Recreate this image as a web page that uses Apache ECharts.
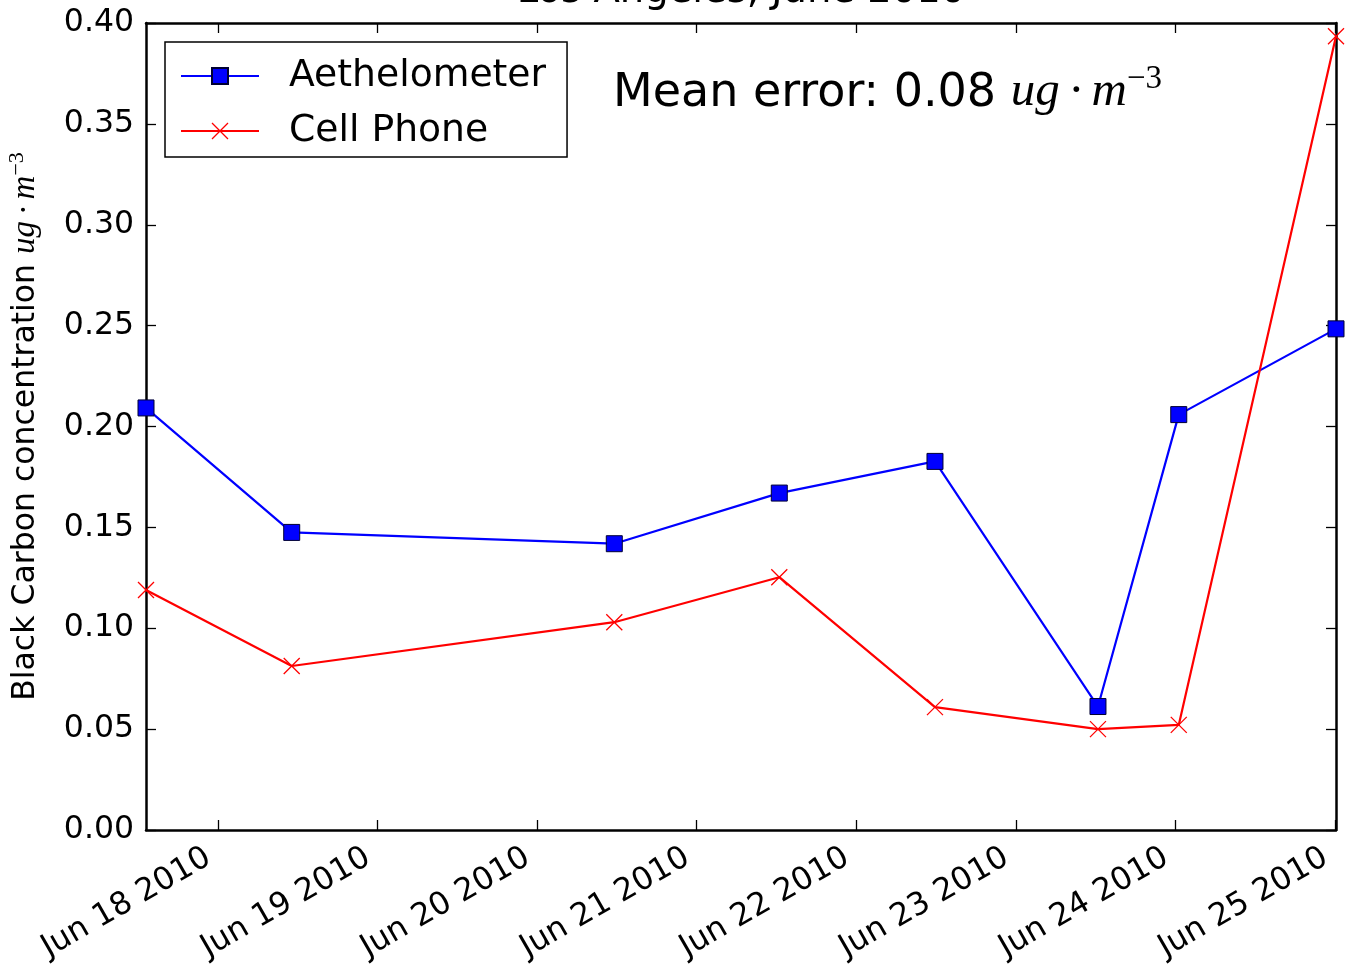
<!DOCTYPE html>
<html><head><meta charset="utf-8">
<script src="https://cdn.jsdelivr.net/npm/echarts@6/dist/echarts.min.js"></script>
<style>html,body{margin:0;padding:0;background:#fff}#c{width:1345px;height:967px}</style>
</head><body><div id="c"></div>
<script>
const MONTHS = ['Jan','Feb','Mar','Apr','May','Jun','Jul','Aug','Sep','Oct','Nov','Dec'];
const sampleTimes = ['2010-06-17 13:10','2010-06-18 11:05','2010-06-20 11:36','2010-06-21 12:25','2010-06-22 11:50','2010-06-23 12:21','2010-06-24 00:30','2010-06-25 00:09'];
const aethelometer = [0.2092, 0.1475, 0.1419, 0.1670, 0.1827, 0.0612, 0.2059, 0.2484];
const cellPhone    = [0.1190, 0.0813, 0.1030, 0.1253, 0.0609, 0.0500, 0.0521, 0.3934];
const dayTicks = ['2010-06-18','2010-06-19','2010-06-20','2010-06-21','2010-06-22','2010-06-23','2010-06-24','2010-06-25'];
const yMin = 0, yMax = 0.40, yStep = 0.05;
const titleText = 'Los Angeles, June 2010';
const meanErrorText = 'Mean error: 0.08 ';

function parseT(s){
  const [d, t='00:00'] = s.split(' ');
  const [Y,M,D] = d.split('-').map(Number);
  const [h,m] = t.split(':').map(Number);
  return new Date(Y, M-1, D, h, m).getTime();
}
const times = sampleTimes.map(parseT);
const tickTimes = dayTicks.map(parseT);
const xMin = times[0], xMax = times[times.length-1];
const fmtDate = v => { const d = new Date(v); return MONTHS[d.getMonth()] + ' ' + d.getDate() + ' ' + d.getFullYear(); };

const SANS = 'DejaVu Sans';
const SERIF = 'Liberation Serif';
const axisLineStyle = {color:'#000', width:2.5};
const tickStyle = {color:'#000', width:1.3};

const chart = echarts.init(document.getElementById('c'), null, {renderer:'canvas'});
chart.setOption({
  animation:false,
  backgroundColor:'#fff',
  grid:{left:146, top:23, width:1190, height:807, containLabel:false, outerBoundsMode:'none'},
  xAxis:[{
    type:'value', min:xMin, max:xMax, position:'bottom',
    axisLine:{show:true, onZero:false, lineStyle:axisLineStyle},
    axisTick:{show:true, inside:true, length:10, lineStyle:tickStyle, customValues:tickTimes},
    axisLabel:{show:true, customValues:tickTimes, formatter:fmtDate, rotate:30, margin:20,
      padding:[0,11,0,0], color:'#000', fontFamily:SANS, fontSize:31.5},
    splitLine:{show:false}
  },{
    type:'value', min:xMin, max:xMax, position:'top',
    axisLine:{show:true, onZero:false, lineStyle:axisLineStyle},
    axisTick:{show:true, inside:true, length:10, lineStyle:tickStyle, customValues:tickTimes},
    axisLabel:{show:false},
    splitLine:{show:false}
  }],
  yAxis:[{
    type:'value', min:yMin, max:yMax, interval:yStep, position:'left',
    axisLine:{show:true, onZero:false, lineStyle:axisLineStyle},
    axisTick:{show:true, inside:true, length:10, lineStyle:tickStyle},
    axisLabel:{show:true, margin:12, color:'#000', fontFamily:SANS, fontSize:31.5, formatter:v=>v.toFixed(2)},
    splitLine:{show:false},
    name:'{a|Black Carbon concentration }{m|ug\u2009·\u2009m}{s|\u22123}',
    nameLocation:'middle', nameGap:104,
    nameTextStyle:{
      color:'#000',
      rich:{
        a:{fontFamily:SANS, fontSize:31.5, color:'#000', verticalAlign:'bottom'},
        m:{fontFamily:SERIF, fontStyle:'italic', fontSize:33, color:'#000', verticalAlign:'bottom'},
        s:{fontFamily:SERIF, fontSize:22, color:'#000', verticalAlign:'bottom', padding:[0,0,14,0]}
      }
    }
  },{
    type:'value', min:yMin, max:yMax, interval:yStep, position:'right',
    axisLine:{show:true, onZero:false, lineStyle:axisLineStyle},
    axisTick:{show:true, inside:true, length:10, lineStyle:tickStyle},
    axisLabel:{show:false},
    splitLine:{show:false}
  }],
  legend:{
    orient:'vertical', left:165, top:42,
    padding:[14,21,6,15],
    itemWidth:78, itemHeight:20, itemGap:15,
    borderColor:'#000', borderWidth:1.5, borderRadius:0,
    backgroundColor:'#fff',
    selectedMode:false,
    textStyle:{fontFamily:SANS, fontSize:37.7, color:'#000', lineHeight:40, padding:[0,0,0,25]},
    data:['Aethelometer', {name:'Cell Phone', itemStyle:{borderWidth:1.3, borderColor:'#ff0000'}}]
  },
  graphic:[
    {type:'text', x:741, y:-8, silent:true,
      style:{text:titleText, fontFamily:SANS, fontSize:38.5, fill:'#000', align:'center', verticalAlign:'middle'}},
    {type:'text', x:613, y:117, silent:true,
      style:{
        text:'{a|' + meanErrorText + '}{m|ug\u2009·\u2009m}{s|\u22123}',
        align:'left', verticalAlign:'bottom',
        rich:{
          a:{fontFamily:SANS, fontSize:46, fill:'#000', verticalAlign:'bottom'},
          m:{fontFamily:SERIF, fontStyle:'italic', fontSize:49, fill:'#000', verticalAlign:'bottom'},
          s:{fontFamily:SERIF, fontSize:33, fill:'#000', verticalAlign:'bottom', padding:[0,0,21,0]}
        }
      }}
  ],
  series:[{
    name:'Aethelometer', type:'line', xAxisIndex:0, yAxisIndex:0,
    data:times.map((t,i)=>[t, aethelometer[i]]),
    symbol:'rect', symbolSize:16, showSymbol:true, clip:true,
    lineStyle:{color:'#0000ff', width:2.2},
    itemStyle:{color:'#0000ff', borderColor:'#000033', borderWidth:1}
  },{
    name:'Cell Phone', type:'line', xAxisIndex:0, yAxisIndex:0,
    data:times.map((t,i)=>[t, cellPhone[i]]),
    symbol:'path://M0,0L10,10M10,0L0,10', symbolSize:16, showSymbol:true, clip:true,
    lineStyle:{color:'#ff0000', width:2.2},
    itemStyle:{color:'#ff0000', borderColor:'#ff0000', borderWidth:1.3}
  }]
});
</script></body></html>
